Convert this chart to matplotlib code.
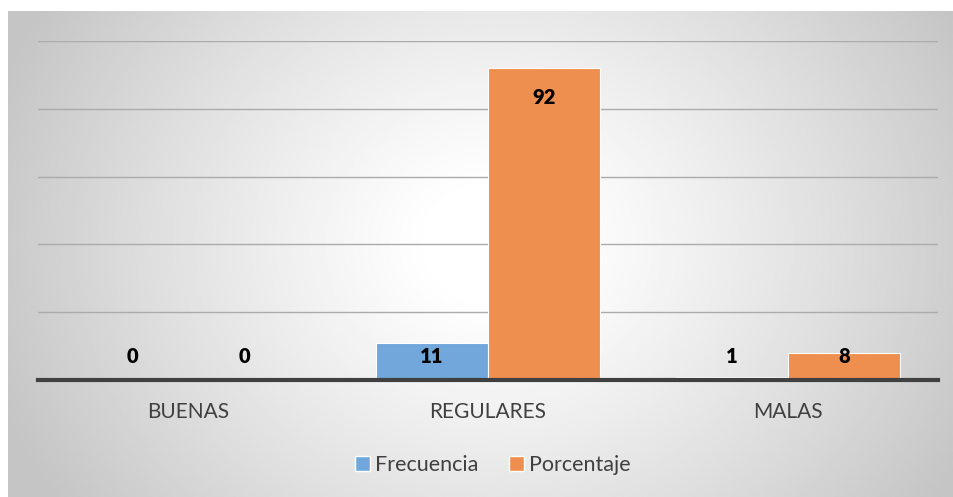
import numpy as np
import matplotlib.pyplot as plt
from matplotlib.patches import Patch

categories = ["BUENAS", "REGULARES", "MALAS"]
frecuencia = [0, 11, 1]
porcentaje = [0, 92, 8]
series_names = ["Frecuencia", "Porcentaje"]

blue = "#71a7da"
orange = "#ef8f4f"
plt.rcParams['font.family'] = ['Lato', 'DejaVu Sans']

W, H = 954, 497
fig = plt.figure(figsize=(W / 100, H / 100), dpi=100)

# radial gray background (chart area)
bg = fig.add_axes([8 / W, 0, (W - 8) / W, (H - 11) / H])
bg.set_axis_off()
yy, xx = np.mgrid[0:200, 0:390]
cx, cy = 200, 95
r = np.sqrt(((xx - cx) / 390) ** 2 + ((yy - cy) / 200) ** 2 * 0.35)
shade = np.clip(1.02 - 0.5 * r ** 1.2, 0.77, 1.0)
bg.imshow(shade, cmap="gray", vmin=0, vmax=1, aspect="auto",
          interpolation="bilinear", extent=[0, 1, 0, 1])
bg.set_xlim(0, 1)
bg.set_ylim(0, 1)

ax = fig.add_axes([38 / W, 117 / H, 900 / W, (380 - 41) / H])
ax.patch.set_alpha(0)

x = np.arange(len(categories))
w = 0.373
ax.bar(x - w / 2, frecuencia, w, color=blue, edgecolor="white", linewidth=0.8, zorder=3)
ax.bar(x + w / 2, porcentaje, w, color=orange, edgecolor="white", linewidth=0.8, zorder=3)

for xs, vals in ((x - w / 2, frecuencia), (x + w / 2, porcentaje)):
    for xi, v in zip(xs, vals):
        ly = max(v - 8.8, 6.8)
        ax.text(xi, ly, str(v), ha="center", va="center", fontsize=14.5,
                fontweight="heavy", color="black", zorder=5)

ax.set_xlim(-0.5, 2.5)
ax.set_ylim(0, 100)
ax.set_yticks([20, 40, 60, 80, 100])
ax.yaxis.grid(True, color="#ababab", linewidth=1)
ax.set_axisbelow(True)
ax.tick_params(axis="y", length=0, labelleft=False)
ax.set_xticks(x)
ax.set_xticklabels(categories, fontsize=15, color="#404040")
ax.tick_params(axis="x", length=0, pad=16)
for s in ("top", "right", "left"):
    ax.spines[s].set_visible(False)
ax.spines["bottom"].set_color("#404040")
ax.spines["bottom"].set_linewidth(3)
ax.spines["bottom"].set_zorder(4)

handles = [Patch(facecolor=blue, edgecolor="white"), Patch(facecolor=orange, edgecolor="white")]
fig.legend(handles, series_names, loc="center", bbox_to_anchor=(493 / W, 1 - 465 / H),
           ncol=2, frameon=False, fontsize=15.5, handlelength=0.7, handleheight=0.7,
           handletextpad=0.25, columnspacing=1.4, labelcolor="#404040")

fig.savefig("out.png", dpi=100)
